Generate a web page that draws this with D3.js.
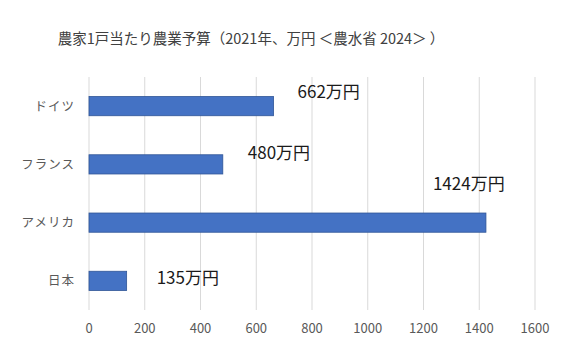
<!DOCTYPE html>
<html>
<head>
<meta charset="utf-8">
<script src="https://cdn.jsdelivr.net/npm/d3@7"></script>
<style>
  body { margin: 0; background: #fff; }
  svg { display: block; font-family: "Noto Sans CJK JP", "Noto Sans", sans-serif; }
</style>
</head>
<body>
<div id="chart"></div>
<script>
'use strict';

const title = '農家1戸当たり農業予算（2021年、万円 ＜農水省 2024＞ ）';
const countries = ['ドイツ', 'フランス', 'アメリカ', '日本'];
const budgets = [662, 480, 1424, 135];
const valueLabels = ['662万円', '480万円', '1424万円', '135万円'];
const xTicks = [0, 200, 400, 600, 800, 1000, 1200, 1400, 1600];

// hand-placed data labels in the original, nudged from the bar end
const labelNudge = [
  { dx: 24, dy: -14 },
  { dx: 25, dy: -11 },
  { dx: -53, dy: -39 },
  { dx: 30, dy: -3 },
];

const width = 586;
const height = 352;
const margin = { top: 77, right: 50, bottom: 42, left: 89 };

const svg = d3.select('#chart')
  .append('svg')
    .attr('width', width)
    .attr('height', height);

const x = d3.scaleLinear()
  .domain([0, 1600])
  .range([margin.left, margin.left + 446]);

const y = d3.scaleBand()
  .domain(countries)
  .range([margin.top, height - margin.bottom])
  .paddingInner(0.67)
  .paddingOuter(0.335);

svg.append('text')
  .attr('x', 251)
  .attr('y', 44)
  .attr('text-anchor', 'middle')
  .attr('font-size', 14.5)
  .attr('fill', '#404040')
  .text(title);

// gridlines
svg.append('g')
  .selectAll('line')
  .data(xTicks)
  .enter()
  .append('line')
    .attr('x1', (d) => x(d))
    .attr('x2', (d) => x(d))
    .attr('y1', margin.top)
    .attr('y2', height - margin.bottom)
    .attr('stroke', '#d9d9d9')
    .attr('stroke-width', 1);

// x tick labels
svg.append('g')
  .selectAll('text')
  .data(xTicks)
  .enter()
  .append('text')
    .attr('x', (d) => x(d))
    .attr('y', 333)
    .attr('text-anchor', 'middle')
    .attr('font-size', 13)
    .attr('fill', '#595959')
    .text((d) => d);

// category labels
svg.append('g')
  .selectAll('text')
  .data(countries)
  .enter()
  .append('text')
    .attr('x', 75)
    .attr('y', (d) => y(d) + y.bandwidth() / 2)
    .attr('dy', '0.35em')
    .attr('text-anchor', 'end')
    .attr('font-size', 12.5)
    .attr('letter-spacing', 1)
    .attr('fill', '#595959')
    .text((d) => d);

// bars
svg.append('g')
  .selectAll('rect')
  .data(countries)
  .enter()
  .append('rect')
    .attr('x', x(0))
    .attr('y', (d) => y(d))
    .attr('width', (d, i) => x(budgets[i]) - x(0))
    .attr('height', y.bandwidth())
    .attr('fill', '#4472c4')
    .attr('stroke', '#2f5597')
    .attr('stroke-width', 0.8);

// value labels
svg.append('g')
  .selectAll('text')
  .data(countries)
  .enter()
  .append('text')
    .attr('x', (d, i) => x(budgets[i]) + labelNudge[i].dx)
    .attr('y', (d, i) => y(d) + y.bandwidth() / 2 + labelNudge[i].dy)
    .attr('dy', '0.35em')
    .attr('font-size', 17)
    .attr('fill', '#1a1a1a')
    .text((d, i) => valueLabels[i]);
</script>
</body>
</html>
